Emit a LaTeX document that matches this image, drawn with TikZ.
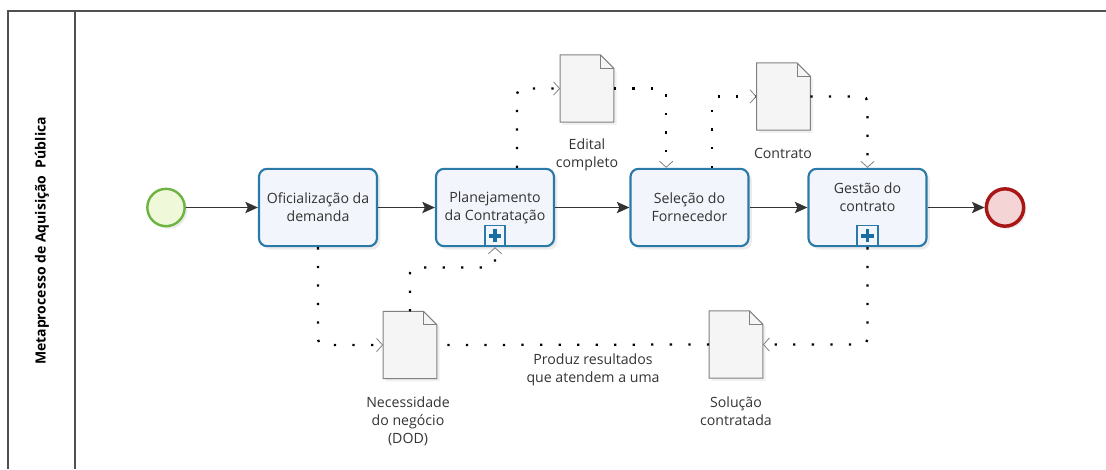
\documentclass[tikz,border=0pt]{standalone}
\usepackage{fontspec}
\setmainfont{Open Sans}
\usetikzlibrary{arrows.meta, shadows, calc, positioning}

\definecolor{taskblue}{RGB}{43,121,168}
\definecolor{taskfill}{RGB}{242,245,252}
\definecolor{startgreen}{RGB}{108,179,63}
\definecolor{startfill}{RGB}{240,248,218}
\definecolor{endred}{RGB}{168,22,22}
\definecolor{endfill}{RGB}{244,212,212}
\definecolor{docgray}{RGB}{128,128,128}
\definecolor{docfill}{RGB}{245,245,245}
\definecolor{textgray}{RGB}{51,51,51}
\definecolor{framegray}{RGB}{80,80,80}
\definecolor{plusblue}{RGB}{24,110,160}

\begin{document}
\begin{tikzpicture}[
            x=0.75pt, y=-0.75pt, % pixel grid of the reference
            font=\fontsize{10.6}{13.5}\selectfont,
            every node/.style={text=textgray},
            task/.style={draw=taskblue, line width=1.6pt, fill=taskfill, rounded corners=6pt,
                minimum width=88.5pt, minimum height=58pt, align=center, inner xsep=1pt,
                drop shadow={shadow xshift=2.5pt, shadow yshift=-2.5pt, opacity=.15}},
            event/.style={circle, minimum size=28pt, inner sep=0pt,
                drop shadow={shadow xshift=2pt, shadow yshift=-2pt, opacity=.15}},
            start/.style={event, draw=startgreen, fill=startfill, line width=1.8pt},
            stop/.style={event, draw=endred, fill=endfill, line width=2.6pt},
            dataobj/.style={minimum width=40pt, minimum height=50pt, inner sep=0pt},
            docshape/.style={draw=docgray, fill=docfill, line width=0.8pt,
                drop shadow={shadow xshift=2pt, shadow yshift=-2pt, opacity=.12}},
            doclabel/.style={align=center},
            marker/.style={draw=taskblue, line width=1.3pt, fill=taskfill, minimum size=15.5pt, inner sep=0pt},
            plusmark/.style={draw=plusblue, line width=2.6pt},
            flow/.style={draw=textgray, line width=0.9pt, -{Stealth[length=9.5pt, width=8.5pt, inset=2pt]}},
            assoc/.style={line width=1.7pt, dash pattern=on 1.7pt off 12.2pt, rounded corners=4pt},
            assocend/.style={assoc, -{Straight Barb[length=4.5pt, width=10pt, line width=0.6pt, color=docgray]}},
            frame/.style={draw=framegray, line width=1.3pt}
        ]

        \useasboundingbox (0,0) rectangle (1106,469);

        % Pool and lane
        \draw[frame] (1106,11) -- (8,11) -- (8,469);
        \draw[frame] (75,11) -- (75,469);
        \node[rotate=90, font=\fontsize{10.5}{12}\selectfont\bfseries, text=black] (lane) at (42,241) {Metaprocesso de Aquisição~~Pública};

        % Events and tasks
        \node[start] (start) at (166,207.5) {};
        \node[task] (t1) at (318,207.5) {Oficialização da\\demanda};
        \node[task] (t2) at (495,207.5) {Planejamento\\da Contratação};
        \node[task] (t3) at (689.5,207.5) {Seleção do\\Fornecedor};
        \node[task, text depth=16pt] (t4) at (867.5,207.5) {Gestão do\\contrato};
        \node[stop] (end) at (1005,207.5) {};

        % Data objects
        \node[dataobj] (edital) at (587,88.5) {};
        \node[dataobj] (contrato) at (783.5,96.5) {};
        \node[dataobj] (dod) at (410,345) {};
        \node[dataobj] (solucao) at (736,344.5) {};

        \foreach \d in {edital,contrato,dod,solucao}{
            \draw[docshape] (\d.south west) -- (\d.north west) -- ([xshift=-10pt]\d.north east)
                -- ([yshift=-10pt]\d.north east) -- (\d.south east) -- cycle;
            \draw[draw=docgray, line width=0.6pt] ([xshift=-10pt]\d.north east)
                -- ([xshift=-10pt, yshift=-10pt]\d.north east) -- ([yshift=-10pt]\d.north east);
        }

        % Data object labels
        \node[doclabel] (edital-label) at (587,155) {Edital\\completo};
        \node[doclabel] (contrato-label) at (783,153) {Contrato};
        \node[doclabel] (dod-label) at (408,421) {Necessidade\\do negócio\\(DOD)};
        \node[doclabel] (solucao-label) at (736,411) {Solução\\contratada};
        \node[doclabel] (produz-label) at (593,370) {Produz resultados\\que atendem a uma};

        % Sequence flows
        \draw[flow] (start) -- (t1);
        \draw[flow] (t1) -- (t2);
        \draw[flow] (t2) -- (t3);
        \draw[flow] (t3) -- (t4);
        \draw[flow] (t4) -- (end);

        % Associations
        \draw[assocend] (t1.south) |- (dod.west);
        \draw[assocend] (dod.north) -- ++(0,-44) -| (t2.south);
        \draw[assocend] ([xshift=16.5pt]t2.north) |- (edital.west);
        \draw[assocend] (edital.east) -| ([xshift=-17.5pt]t3.north);
        \draw[assocend] ([xshift=17pt]t3.north) |- (contrato.west);
        \draw[assocend] (contrato.east) -| (t4.north);
        \draw[assocend] (t4.south) |- (solucao.east);
        \draw[assoc] (solucao.west) -- (dod.east);

        % Sub-process markers
        \foreach \t in {t2,t4}{
            \node[marker] (\t-marker) at ([yshift=8.6pt]\t.south) {};
            \draw[plusmark] ([xshift=-4.8pt]\t-marker.center) -- ([xshift=4.8pt]\t-marker.center);
            \draw[plusmark] ([yshift=-4.8pt]\t-marker.center) -- ([yshift=4.8pt]\t-marker.center);
        }

    \end{tikzpicture}
\end{document}
